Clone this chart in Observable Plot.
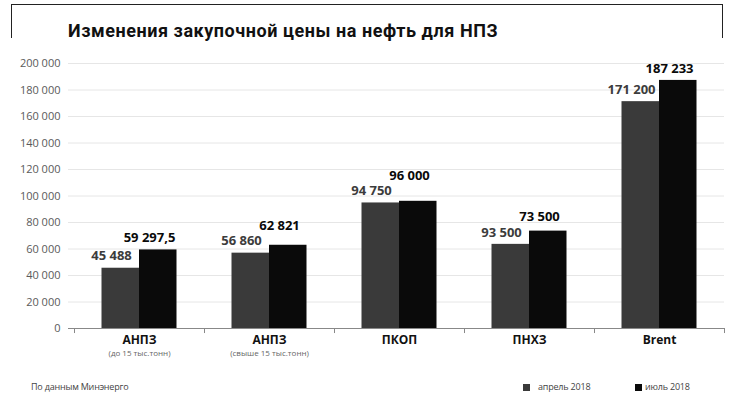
<!DOCTYPE html>
<html><head><meta charset="utf-8">
<script src="https://cdn.jsdelivr.net/npm/d3@7"></script>
<script src="https://cdn.jsdelivr.net/npm/@observablehq/plot@0.6"></script>
<style>
body{margin:0;background:#fff;}
#wrap{position:relative;width:733px;height:402px;overflow:hidden;font-family:"Open Sans",sans-serif;background:#fff;}
#wrap svg{position:absolute;left:0;top:0;}
#box{position:absolute;left:11px;top:4px;width:710px;height:33px;border:1.5px solid #222;border-bottom:none;}
#title{position:absolute;left:68px;top:22px;font-family:Roboto,sans-serif;font-weight:700;font-size:18px;line-height:18px;letter-spacing:0.55px;color:#111;white-space:nowrap;}
.foot{position:absolute;top:382px;font-size:9px;line-height:9px;color:#444;white-space:nowrap;letter-spacing:-0.2px;}
.sq{position:absolute;top:384px;width:7px;height:7px;}
</style></head>
<body><div id="wrap">
<div id="box"></div>
<div id="title">Изменения закупочной цены на нефть для НПЗ</div>
<div class="foot" style="left:31px">По данным Минэнерго</div>
<div class="sq" style="left:523px;background:#3a3a3a"></div>
<div class="foot" style="left:538px">апрель 2018</div>
<div class="sq" style="left:635px;background:#0a0a0a"></div>
<div class="foot" style="left:645px">июль 2018</div>
</div>
<script>
const names = ["АНПЗ", "АНПЗ", "ПКОП", "ПНХЗ", "Brent"];
const subs = ["(до 15 тыс.тонн)", "(свыше 15 тыс.тонн)", "", "", ""];
const april = [45488, 56860, 94750, 63500, 171200];
const july = [59297.5, 62821, 96000, 73500, 187233];
const aprilLabels = ["45 488", "56 860", "94 750", "93 500", "171 200"];
const julyLabels = ["59 297,5", "62 821", "96 000", "73 500", "187 233"];
const yTicks = [0, 20000, 40000, 60000, 80000, 100000, 120000, 140000, 160000, 180000, 200000];

// keep the July label clear of the April label when the bars are close
const labelClearance = 11500;

const rows = names.map((n, i) => ({
  key: n + " " + subs[i], name: n, sub: subs[i],
  april: april[i], july: july[i], aprilLabel: aprilLabels[i], julyLabel: julyLabels[i],
  julyLabelY: Math.max(july[i], april[i] + labelClearance)
}));
const keys = rows.map(d => d.key);
const fmt = d => d3.format(",")(d).replace(/,/g, " ");

const chart = Plot.plot({
  width: 733, height: 402,
  marginLeft: 74, marginRight: 9, marginTop: 63, marginBottom: 74,
  style: {fontFamily: "'Open Sans', sans-serif", background: "transparent"},
  x: {type: "band", domain: keys, padding: 0, axis: null},
  y: {domain: [0, 200000], axis: null},
  marks: [
    Plot.ruleY(yTicks.slice(1), {stroke: "#e6e6e6", strokeWidth: 1, insetLeft: -6}),
    Plot.axisY({ticks: yTicks, tickSize: 0, tickPadding: 14, tickFormat: fmt, fontSize: 11, color: "#5a5a5a", label: null}),
    Plot.barY(rows, {x: "key", y: "april", fill: "#3a3a3a", insetLeft: 27.5, insetRight: 65}),
    Plot.barY(rows, {x: "key", y: "july", fill: "#0a0a0a", insetLeft: 65, insetRight: 27.5}),
    Plot.ruleY([0], {stroke: "#888", strokeWidth: 1, insetLeft: -6}),
    Plot.ruleX(rows, {x: "key", dx: -65, y1: 0, y2: -3800, stroke: "#888"}),
    Plot.ruleX(rows.slice(-1), {x: "key", dx: 65, y1: 0, y2: -3800, stroke: "#888"}),
    Plot.text(rows, {x: "key", y: "april", text: "aprilLabel", dx: -28, dy: -12, fontSize: 13, fontWeight: "bold", fill: "#3c3c3c"}),
    Plot.text(rows, {x: "key", y: "julyLabelY", text: "julyLabel", dx: 10, dy: -12, fontSize: 13, fontWeight: "bold", fill: "#0a0a0a"}),
    Plot.text(rows, {x: "key", text: "name", frameAnchor: "bottom", dy: 15, fontSize: 12, fontWeight: "bold", fill: "#111"}),
    Plot.text(rows, {x: "key", text: "sub", frameAnchor: "bottom", dy: 27, fontSize: 8, fill: "#666"})
  ]
});
document.getElementById("wrap").prepend(chart);
</script>
</body></html>
